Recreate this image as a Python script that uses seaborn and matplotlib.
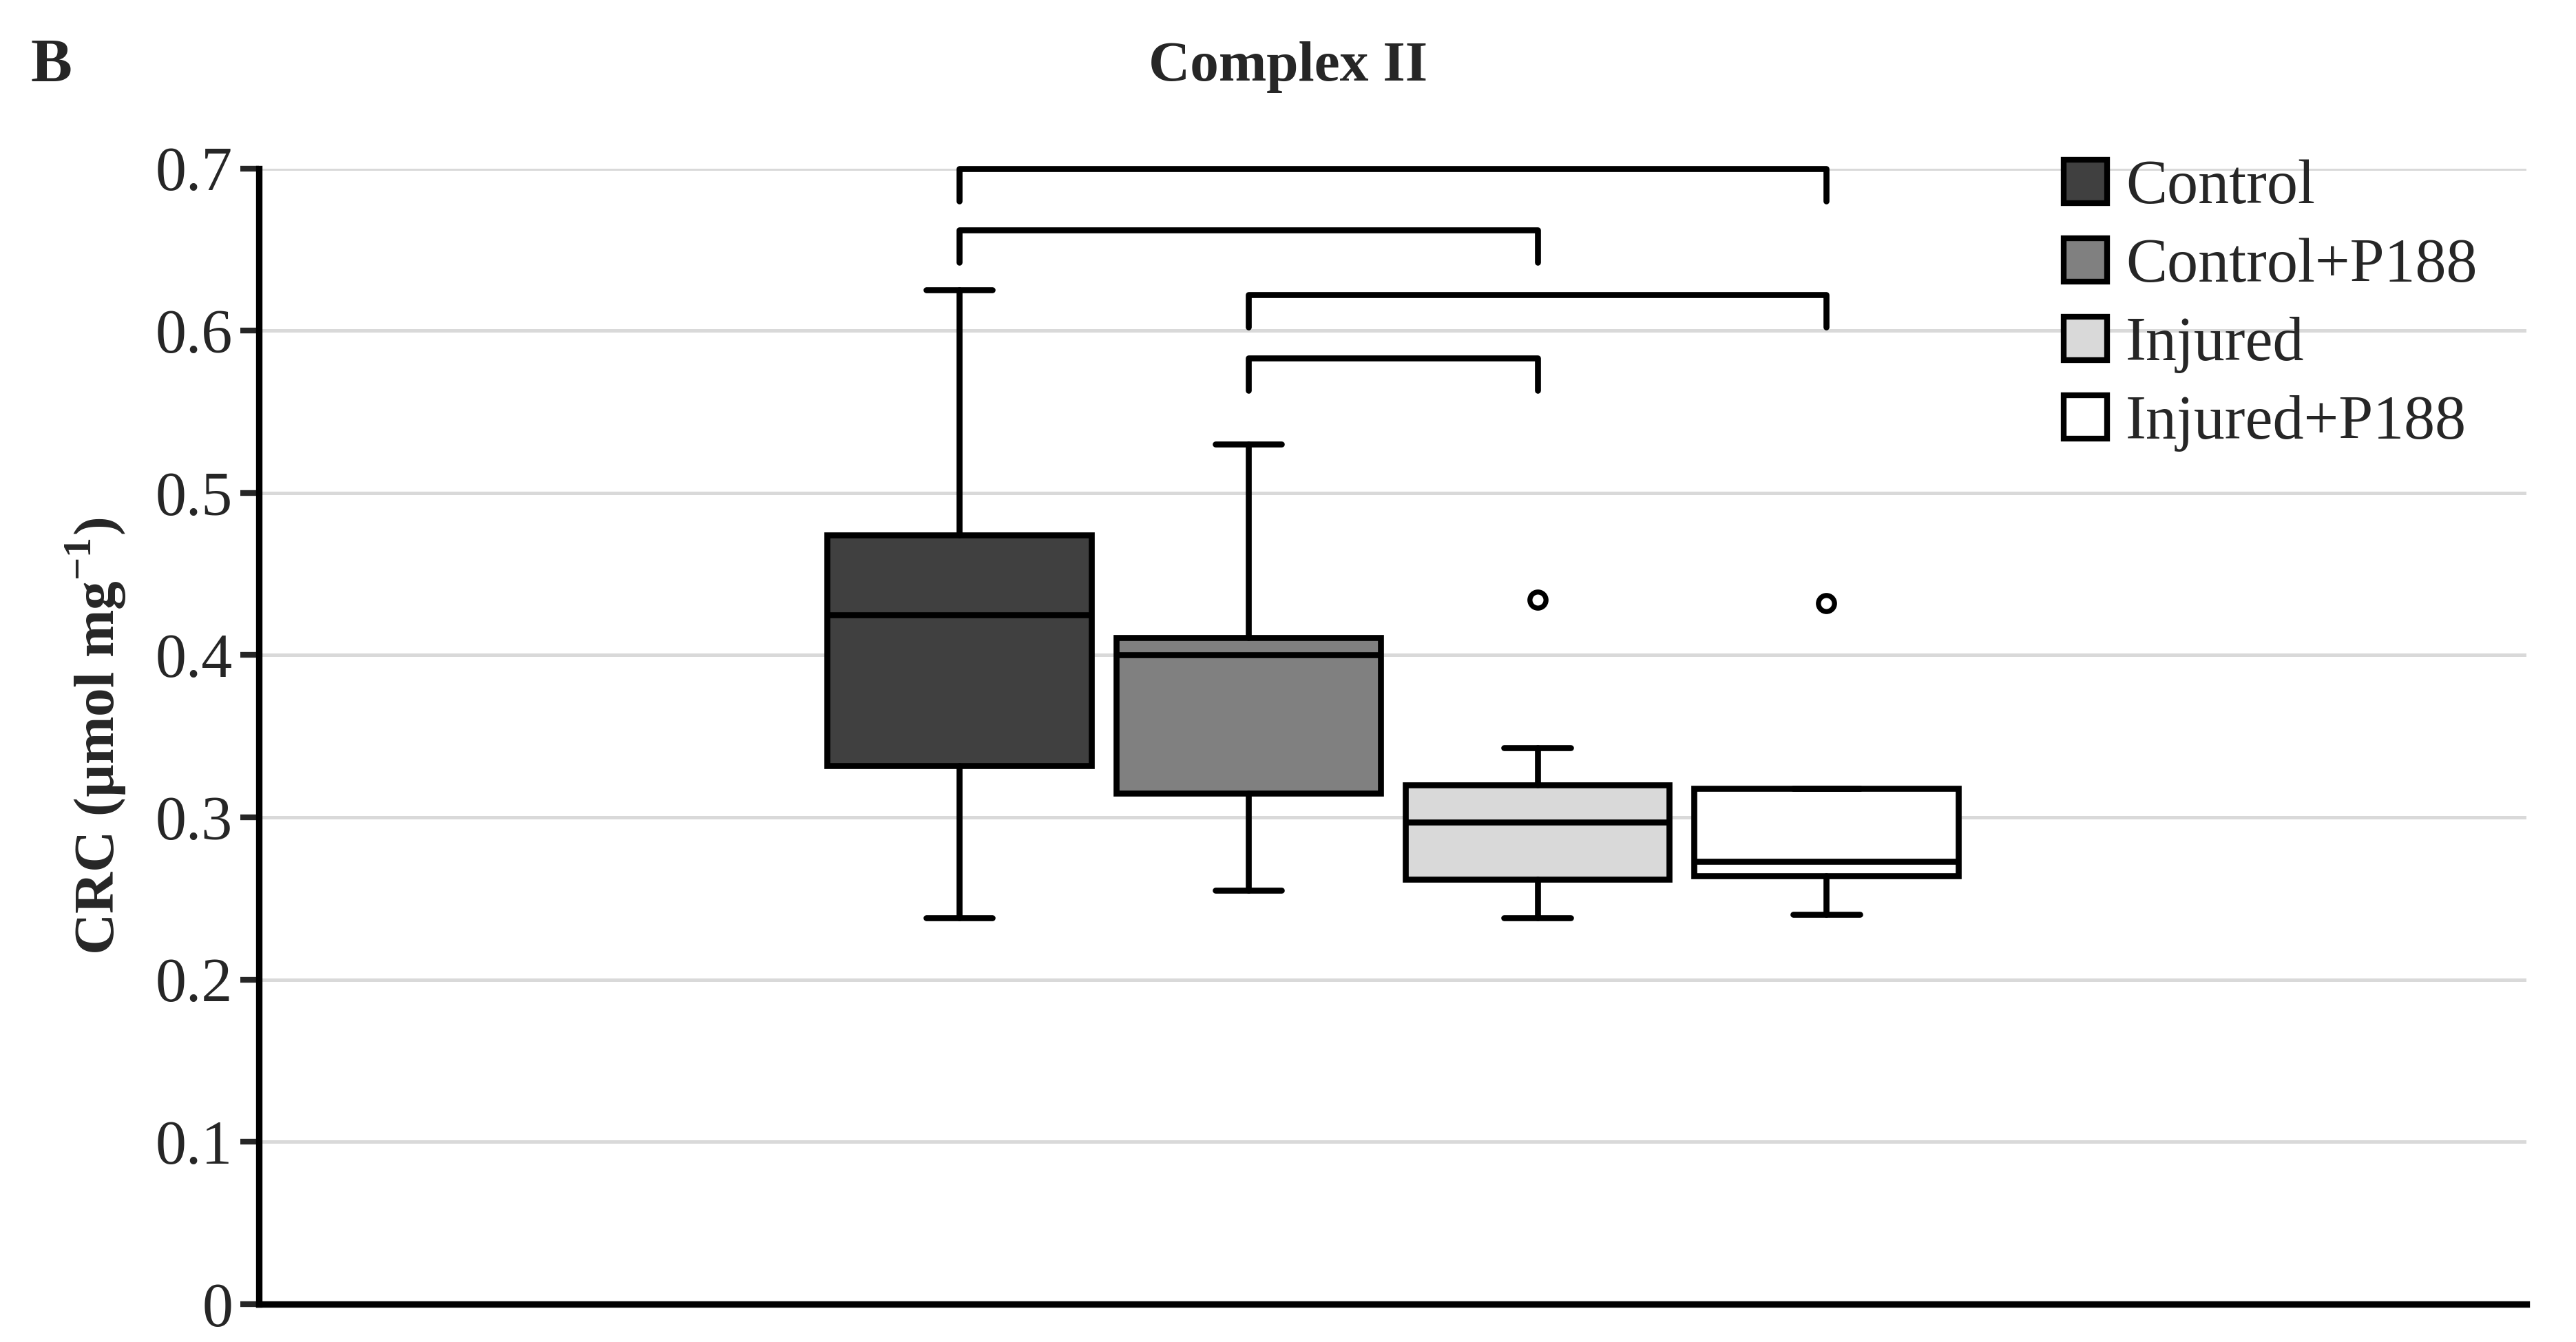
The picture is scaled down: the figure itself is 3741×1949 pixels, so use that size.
import matplotlib
matplotlib.use("Agg")
import matplotlib.pyplot as plt
import matplotlib.patches as mpatches
import seaborn as sns

groups = ["Control", "Control+P188", "Injured", "Injured+P188"]
colors = ["#404040", "#808080", "#d9d9d9", "#ffffff"]
whisk_lo = [0.238, 0.255, 0.238, 0.240]
q1 = [0.332, 0.315, 0.262, 0.264]
med = [0.425, 0.400, 0.297, 0.273]
q3 = [0.474, 0.411, 0.320, 0.318]
whisk_hi = [0.625, 0.530, 0.343, 0.318]
fliers = [[], [], [0.434], [0.432]]
# significance brackets: (group a, group b, height)
brackets = [(0, 3, 0.700), (0, 2, 0.662), (1, 3, 0.622), (1, 2, 0.583)]

sns.set_style("white")
plt.rcParams["font.family"] = ["Liberation Serif", "DejaVu Serif"]
plt.rcParams["mathtext.fontset"] = "custom"
plt.rcParams["mathtext.rm"] = "Liberation Serif"
plt.rcParams["mathtext.bf"] = "Liberation Serif:bold"

fig = plt.figure(figsize=(3741 / 240, 1949 / 240), dpi=240)
ax = fig.add_axes([0.1006, 0.0283, 0.8802, 0.8462])

ax.yaxis.grid(True, color="#d9d9d9", linewidth=1.5)
ax.set_axisbelow(True)

stats = []
for i, g in enumerate(groups):
    stats.append(dict(label=g, whislo=whisk_lo[i], q1=q1[i], med=med[i],
                      q3=q3[i], whishi=whisk_hi[i], fliers=fliers[i]))
lw = 2.6
bp = ax.bxp(stats, positions=range(4), widths=0.914, patch_artist=True,
            boxprops=dict(linewidth=lw, edgecolor="black"),
            medianprops=dict(color="black", linewidth=lw),
            whiskerprops=dict(linewidth=lw, color="black"),
            capprops=dict(linewidth=lw, color="black"),
            flierprops=dict(marker="o", markersize=7, markerfacecolor="white",
                            markeredgecolor="black", markeredgewidth=2.2),
            capwidths=0.23)
for patch, c in zip(bp["boxes"], colors):
    patch.set_facecolor(c)

for a, b, h in brackets:
    ax.plot([a, a, b, b], [h - 0.02, h, h, h - 0.02], color="black",
            linewidth=lw, clip_on=False, solid_joinstyle="round")

ax.set_xlim(1.5 - 3.923, 1.5 + 3.923)
ax.set_ylim(0, 0.7)
ax.set_xticks([])
ax.set_yticks([0, 0.1, 0.2, 0.3, 0.4, 0.5, 0.6, 0.7])
ax.set_yticklabels(["0", "0.1", "0.2", "0.3", "0.4", "0.5", "0.6", "0.7"])
ax.tick_params(axis="y", labelsize=27, length=8, width=2.5, direction="out", left=True)
for s in ["top", "right"]:
    ax.spines[s].set_visible(False)
for s in ["left", "bottom"]:
    ax.spines[s].set_linewidth(2.8)
    ax.spines[s].set_color("black")
ax.set_ylabel(r"CRC (µmol mg$^{\mathbf{-1}}$)", fontsize=25, fontweight="bold", labelpad=12)

handles = [mpatches.Patch(facecolor=c, edgecolor="black", linewidth=2.5, label=g)
           for g, c in zip(groups, colors)]
ax.legend(handles=handles, loc="upper left", bbox_to_anchor=(0.785, 1.03), frameon=False,
          fontsize=27, handlelength=0.7, handleheight=0.7, handletextpad=0.3,
          labelspacing=0.35, borderaxespad=0)

fig.text(0.5, 0.95, "Complex II", ha="center", va="center", fontsize=25, fontweight="bold")
fig.text(0.012, 0.95, "B", ha="left", va="center", fontsize=27, fontweight="bold")

fig.savefig("out.png", dpi=240)
